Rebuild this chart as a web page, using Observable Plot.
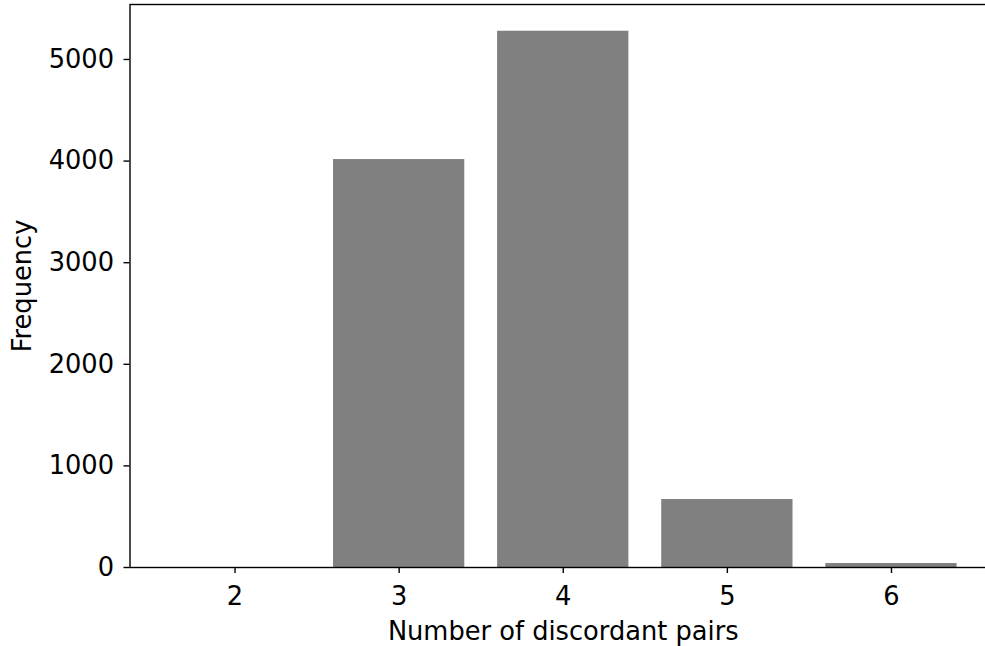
<!DOCTYPE html>
<html>
<head>
<meta charset="utf-8">
<script src="https://cdn.jsdelivr.net/npm/d3@7"></script>
<script src="https://cdn.jsdelivr.net/npm/@observablehq/plot@0.6"></script>
<style>
  html, body { margin: 0; padding: 0; background: #fff; }
  #chart svg { overflow: hidden; display: block; }
</style>
</head>
<body>
<div id="chart"></div>
<script>
const pairs = [2, 3, 4, 5, 6];
const frequency = [0, 4015, 5278, 669, 39];
const xTicks = [2, 3, 4, 5, 6];
const yTicks = [0, 1000, 2000, 3000, 4000, 5000];
const xLabel = "Number of discordant pairs";
const yLabel = "Frequency";

const data = pairs.map((p, i) => ({pairs: p, frequency: frequency[i]}));
const barWidth = 0.8;
const fs = 25.7;

const chart = Plot.plot({
  width: 985,
  height: 646,
  marginLeft: 129.5,
  marginRight: -11,
  marginTop: 4,
  marginBottom: 79,
  style: {fontFamily: "DejaVu Sans", fontSize: fs + "px", color: "#000", background: "#fff"},
  x: {domain: [1.36, 6.64]},
  y: {domain: [0, 5541]},
  marks: [
    Plot.rectY(data, {
      x1: d => d.pairs - barWidth / 2,
      x2: d => d.pairs + barWidth / 2,
      y: "frequency",
      fill: "#808080"
    }),
    Plot.frame({stroke: "#000", strokeWidth: 1.4}),
    Plot.axisX({ticks: xTicks, tickFormat: d => String(d), tickSize: 6, tickPadding: 13, label: null, strokeWidth: 1.4, fontSize: fs}),
    Plot.axisY({ticks: yTicks, tickFormat: d => String(d), tickSize: 6, tickPadding: 10, label: null, strokeWidth: 1.4, fontSize: fs}),
    Plot.text([xLabel], {text: d => d, frameAnchor: "bottom", textAnchor: "middle", lineAnchor: "middle", dy: 64, fontSize: fs}),
    Plot.text([yLabel], {text: d => d, frameAnchor: "left", textAnchor: "middle", lineAnchor: "middle", dx: -107.5, rotate: -90, fontSize: fs})
  ]
});
document.getElementById("chart").appendChild(chart);
</script>
</body>
</html>
